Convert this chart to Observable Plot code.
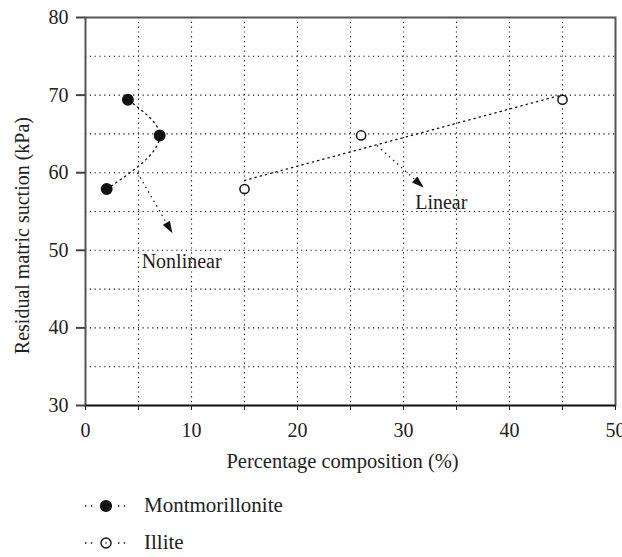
<!DOCTYPE html>
<html>
<head>
<meta charset="utf-8">
<script src="https://cdn.jsdelivr.net/npm/d3@7"></script>
<script src="https://cdn.jsdelivr.net/npm/@observablehq/plot@0.6"></script>
<style>
  html, body { margin: 0; padding: 0; background: #fff; }
  body { width: 622px; font-family: "Liberation Serif", "Times New Roman", serif; color: #222; }
  .legend { margin-left: 84px; margin-top: 7px; }
  .legend .row { display: flex; align-items: center; height: 37px; font-size: 21px; }
  .legend svg { margin-right: 15px; }
</style>
</head>
<body>
<div id="chart"></div>
<div class="legend" id="legend"></div>
<script>
// Montmorillonite content (%) and residual matric suction (kPa), ordered by suction
const montX = [2, 7, 4];
const montY = [57.9, 64.8, 69.4];
// Illite content (%) and residual matric suction (kPa)
const illX = [15, 26, 45];
const illY = [57.9, 64.8, 69.4];

const xTicks = [0, 10, 20, 30, 40, 50];
const xMinor = [0, 5, 10, 15, 20, 25, 30, 35, 40, 45, 50];
const yTicks = [30, 40, 50, 60, 70, 80];
const xGrid = [5, 10, 15, 20, 25, 30, 35, 40, 45];
const yGrid = [35, 40, 45, 50, 55, 60, 65, 70, 75];

// Annotation arrows and their captions
const arrowLabels = ["Nonlinear", "Linear"];
const arrowX1 = [4.9, 27.5];
const arrowY1 = [60.0, 63.5];
const arrowX2 = [8.2, 31.9];
const arrowY2 = [52.2, 58.1];
const labelX = [5.3, 31.1];
const labelY = [48.6, 56.2];

const mont = montX.map((x, i) => ({x, y: montY[i]}));
const illite = illX.map((x, i) => ({x, y: illY[i]}));
const arrows = arrowLabels.map((t, i) => ({
  t, x1: arrowX1[i], y1: arrowY1[i], x2: arrowX2[i], y2: arrowY2[i], lx: labelX[i], ly: labelY[i]
}));

const dotted = "1.4,4";

const chart = Plot.plot({
  width: 622,
  height: 480,
  marginLeft: 85,
  marginRight: 7,
  marginTop: 17,
  marginBottom: 75,
  style: {fontFamily: "'Liberation Serif', 'Times New Roman', serif", fontSize: "20px", color: "#222", background: "#fff", overflow: "visible"},
  x: {domain: [0, 50]},
  y: {domain: [30, 80]},
  marks: [
    Plot.ruleX(xGrid, {stroke: "#111", strokeWidth: 1.1, strokeDasharray: "1.2,3.6"}),
    Plot.ruleY(yGrid, {stroke: "#111", strokeWidth: 1.1, strokeDasharray: "1.2,3.6"}),
    Plot.frame({stroke: "#555", strokeWidth: 2}),
    Plot.ruleY([30], {stroke: "#111", strokeWidth: 1.6}),
    Plot.axisX({ticks: xMinor, tickSize: 5, tickFormat: d => xTicks.includes(d) ? d : "", tickPadding: 12, label: null, stroke: "#222"}),
    Plot.axisY({ticks: yTicks, tickSize: 9, tickPadding: 8, label: null, stroke: "#444", strokeWidth: 2}),
    Plot.line(mont, {x: "x", y: "y", curve: "monotone-y", stroke: "#111", strokeWidth: 1.3, strokeDasharray: dotted}),
    Plot.linearRegressionY(illite, {x: "x", y: "y", ci: 0, stroke: "#111", strokeWidth: 1.3, strokeDasharray: dotted}),
    Plot.link(arrows, {x1: "x1", y1: "y1", x2: "x2", y2: "y2", stroke: "#111", strokeWidth: 1.3, strokeDasharray: dotted}),
    Plot.text(arrows, {x: "lx", y: "ly", text: "t", textAnchor: "start", fontSize: 20, fill: "#222"}),
    Plot.dot(mont, {x: "x", y: "y", r: 5.2, fill: "#111", stroke: "#111"}),
    Plot.dot(illite, {x: "x", y: "y", r: 4.6, fill: "#fff", stroke: "#111", strokeWidth: 1.5}),
    Plot.text(["Percentage composition (%)"], {text: d => d, frameAnchor: "bottom", dy: 62, dx: -8, fontSize: 20.5, fill: "#222"}),
    Plot.text(["Residual matric suction (kPa)"], {text: d => d, x: -5.9, y: 51.9, rotate: -90, fontSize: 20, fill: "#222"})
  ]
});

// Filled arrowheads for the annotation links
const svgSel = d3.select(chart);
svgSel.append("defs").append("marker")
  .attr("id", "filled-head")
  .attr("viewBox", "0 0 12 8")
  .attr("refX", 12).attr("refY", 4)
  .attr("markerWidth", 13).attr("markerHeight", 8)
  .attr("markerUnits", "userSpaceOnUse")
  .attr("orient", "auto")
  .append("path").attr("d", "M0,0L12,4L0,8Z").attr("fill", "#111").attr("stroke", "none");
svgSel.selectAll('g[aria-label="link"] path, g[aria-label="link"] line').attr("marker-end", "url(#filled-head)");

document.getElementById("chart").appendChild(chart);

// Legend
const legendItems = [
  {name: "Montmorillonite", fill: "#111"},
  {name: "Illite", fill: "none"}
];
const legend = d3.select("#legend");
for (const item of legendItems) {
  const row = legend.append("div").attr("class", "row");
  const s = row.append("svg").attr("width", 45).attr("height", 16);
  for (const [a, b] of [[1, 10], [34, 44]]) {
    s.append("line").attr("x1", a).attr("x2", b).attr("y1", 8).attr("y2", 8)
      .attr("stroke", "#111").attr("stroke-width", 1.3).attr("stroke-dasharray", "1.4,4.4");
  }
  s.append("circle").attr("cx", 22).attr("cy", 8).attr("r", item.fill === "none" ? 5 : 5.4)
    .attr("fill", item.fill).attr("stroke", "#111").attr("stroke-width", 1.4);
  if (item.fill === "none") {
    s.append("circle").attr("cx", 22).attr("cy", 8).attr("r", 0.8).attr("fill", "#111");
  }
  row.append("span").text(item.name);
}
</script>
</body>
</html>
